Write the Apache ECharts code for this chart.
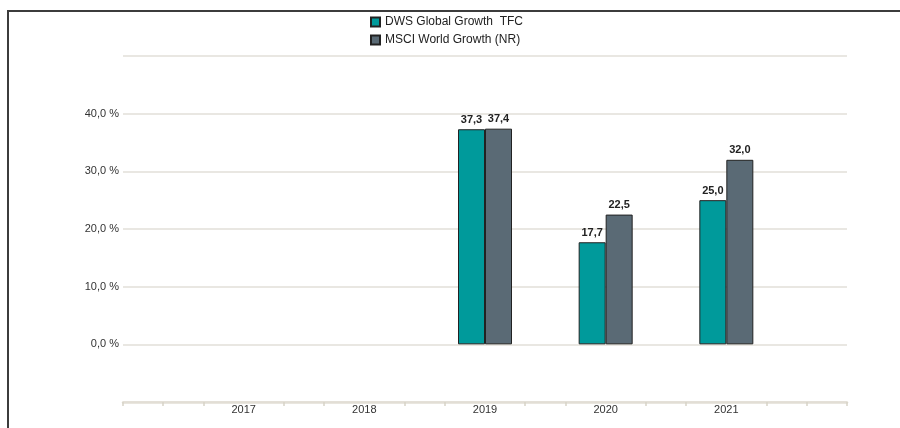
<!DOCTYPE html>
<html>
<head>
<meta charset="utf-8">
<script src="https://cdn.jsdelivr.net/npm/echarts@6/dist/echarts.min.js"></script>
<style>
  html, body { margin: 0; padding: 0; background: #fff; }
  #grafico { width: 900px; height: 428px; }
</style>
</head>
<body>
<div id="grafico"></div>
<script>
var anios = ["", "2017", "2018", "2019", "2020", "2021", ""];
var dws = [null, null, null, 37.3, 17.7, 25.0, null];
var msci = [null, null, null, 37.4, 22.5, 32.0, null];
var nombres = ["DWS Global Growth  TFC", "MSCI World Growth (NR)"];
var colores = ["#009a9b", "#5a6a75"];

function coma(v){
    return v.toFixed(1).replace(".", ",");
}

var dom = document.getElementById("grafico");
var myChart = echarts.init(dom);
var fuente = "Liberation Sans, Arial, sans-serif";
var ejeColor = "#e2ded5";

var option = {
    animation: false,
    textStyle: { fontFamily: fuente },
    legend: {
        orient: "vertical",
        left: 365,
        top: 11,
        itemWidth: 9,
        itemHeight: 9,
        itemGap: 6,
        icon: "rect",
        textStyle: { fontSize: 12, color: "#222", fontFamily: fuente },
        data: nombres
    },
    grid: { left: 123, right: 53, top: 56, bottom: 26 },
    xAxis: [
        {
            type: "category",
            data: anios,
            boundaryGap: false,
            axisLine: { show: false, onZero: false },
            axisTick: { show: false },
            axisLabel: { color: "#333", fontSize: 11, margin: 2, interval: 0 },
            splitLine: { show: false }
        },
        {
            type: "value",
            min: 0,
            max: 18,
            interval: 1,
            position: "bottom",
            axisLine: { show: true, onZero: false, lineStyle: { color: ejeColor, width: 2.5 } },
            axisTick: {
                show: true, length: 4,
                customValues: [0, 1, 2, 4, 5, 7, 8, 10, 11, 13, 14, 16, 17, 18],
                lineStyle: { color: "#d8d3c8", width: 1.5 }
            },
            axisLabel: { show: false },
            splitLine: { show: false }
        }
    ],
    yAxis: {
        type: "value",
        min: -10,
        max: 50,
        interval: 10,
        axisLine: { show: false },
        axisTick: { show: false },
        axisLabel: {
            color: "#333",
            fontSize: 11,
            margin: 4,
            formatter: function(v){
                return (v >= 0 && v <= 40) ? coma(v) + " %" : "";
            }
        },
        splitLine: { lineStyle: { color: "#e2dfd8", width: 1.5 } }
    },
    series: [
        {
            name: nombres[0],
            type: "bar",
            xAxisIndex: 0,
            data: dws,
            barWidth: 27,
            barGap: "0%",
            itemStyle: { color: colores[0], borderColor: "#222", borderWidth: 1 },
            label: {
                show: true, position: "top", distance: 4,
                fontSize: 11, fontWeight: "bold", color: "#222",
                formatter: function(p){ return coma(p.value); }
            }
        },
        {
            name: nombres[1],
            type: "bar",
            xAxisIndex: 0,
            data: msci,
            barWidth: 27,
            barGap: "0%",
            itemStyle: { color: colores[1], borderColor: "#222", borderWidth: 1 },
            label: {
                show: true, position: "top", distance: 4,
                fontSize: 11, fontWeight: "bold", color: "#222",
                formatter: function(p){ return coma(p.value); }
            }
        }
    ],
    graphic: [
        {
            type: "polyline",
            shape: { points: [[8, 428], [8, 11], [900, 11]] },
            style: { stroke: "#3c3c3c", lineWidth: 2, fill: null },
            silent: true
        }
    ]
};

myChart.setOption(option, true);
</script>
</body>
</html>
